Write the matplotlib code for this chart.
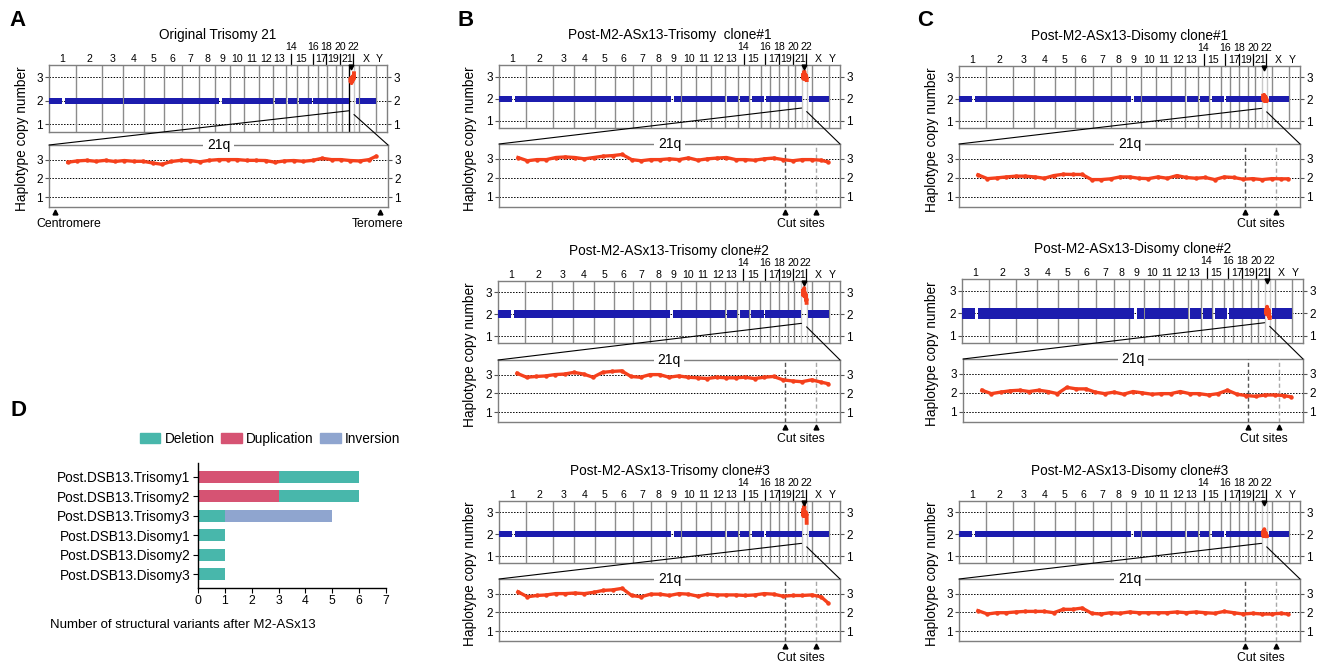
import numpy as np
import matplotlib
matplotlib.use("Agg")
import matplotlib.pyplot as plt
import matplotlib.transforms as mtrans
from matplotlib.patches import ConnectionPatch, Patch

plt.rcParams['font.family'] = ['Liberation Sans', 'DejaVu Sans']

# ---------------- data ----------------
chrom_names = [str(i) for i in range(1, 23)] + ['X', 'Y']
chrom_len_mb = [248.96, 242.19, 198.30, 190.21, 181.54, 170.81, 159.35, 145.14,
                138.39, 133.80, 135.09, 133.28, 114.36, 107.04, 101.99, 90.34,
                83.26, 80.37, 58.62, 64.44, 46.71, 50.82, 156.04, 57.23]
raised_labels = ['14', '16', '18', '20', '22']
# mappable (covered) stretches per chromosome, Mb
covered_mb = {
    '1': [(0.5, 121), (144, 248.5)], '9': [(0.5, 40), (66, 138)],
    '13': [(19, 114)], '14': [(19, 107)], '15': [(20, 102)],
    '16': [(0.5, 36), (47, 90)], '21': [], '22': [(17, 50.8)], 'Y': [],
}
# spread (half-width) of the genome-wide copy-number band per sample
band_spread = [0.12, 0.14, 0.17, 0.15, 0.15, 0.24, 0.14]

# 21q copy-number profile (Mb position -> haplotype copy number)
q21_mb = [14, 15, 16, 17, 18, 19, 20, 21, 22, 23, 24, 25, 26, 27, 28, 29, 30,
          31, 32, 33, 34, 35, 36, 37, 38, 39, 40, 41, 42, 43, 44, 45, 46, 46.7]
cn_original = [2.86, 2.93, 2.96, 2.91, 2.96, 2.90, 2.95, 2.91, 2.91, 2.82, 2.75, 2.90,
               2.96, 2.95, 2.88, 2.96, 3.00, 3.00, 3.00, 2.96, 2.96, 2.95, 2.86, 2.93,
               2.95, 2.91, 2.96, 3.07, 3.00, 3.00, 2.95, 2.93, 3.00, 3.17]
cn_tri1 = [3.07, 2.90, 2.96, 2.96, 3.07, 3.10, 3.07, 3.00, 3.07, 3.14, 3.17, 3.23,
           2.96, 2.90, 2.96, 2.96, 3.00, 2.96, 3.05, 2.93, 3.00, 3.04, 3.07, 2.96,
           2.96, 2.93, 3.00, 3.04, 2.96, 2.90, 2.96, 2.96, 2.93, 2.84]
cn_tri2 = [3.07, 2.86, 2.90, 2.93, 3.00, 3.03, 3.12, 3.03, 2.86, 3.12, 3.17, 3.20,
           2.90, 2.86, 3.00, 3.00, 2.86, 2.93, 2.86, 2.83, 2.79, 2.86, 2.83, 2.83,
           2.86, 2.79, 2.86, 2.90, 2.72, 2.66, 2.62, 2.72, 2.60, 2.52]
cn_tri3 = [3.10, 2.83, 2.90, 2.93, 3.00, 3.00, 3.03, 3.00, 3.07, 3.17, 3.20, 3.28,
           2.90, 2.83, 2.97, 2.97, 2.90, 3.00, 2.97, 2.86, 2.97, 2.93, 2.93, 2.93,
           2.90, 2.93, 3.00, 2.97, 2.86, 2.90, 2.90, 2.93, 2.83, 2.52]
cn_di1 = [2.16, 1.96, 2.00, 2.05, 2.09, 2.09, 2.05, 1.98, 2.12, 2.19, 2.18, 2.18,
          1.91, 1.91, 1.95, 2.05, 2.05, 1.98, 1.96, 2.05, 1.98, 2.12, 2.02, 1.98,
          2.02, 1.91, 2.05, 2.02, 1.93, 1.96, 1.91, 1.96, 1.95, 1.95]
cn_di2 = [2.14, 1.96, 2.04, 2.11, 2.14, 2.07, 2.14, 2.07, 1.96, 2.29, 2.21, 2.21,
          2.04, 1.96, 2.04, 1.93, 2.07, 2.00, 1.93, 1.96, 1.96, 2.07, 1.96, 1.96,
          1.89, 1.96, 2.14, 1.93, 1.86, 1.82, 1.89, 1.89, 1.86, 1.79]
cn_di3 = [2.09, 1.91, 1.98, 1.98, 2.02, 2.05, 2.05, 2.05, 1.98, 2.16, 2.16, 2.23,
          1.95, 1.91, 1.98, 1.95, 2.02, 1.98, 1.98, 1.98, 1.98, 2.02, 1.98, 2.02,
          1.98, 1.95, 2.05, 1.98, 1.91, 1.95, 1.91, 1.91, 1.95, 1.91]
cut_sites_mb = [42.2, 45.5]

sample_titles = ['Original Trisomy 21',
                 'Post-M2-ASx13-Trisomy  clone#1', 'Post-M2-ASx13-Trisomy clone#2',
                 'Post-M2-ASx13-Trisomy clone#3',
                 'Post-M2-ASx13-Disomy clone#1', 'Post-M2-ASx13-Disomy clone#2',
                 'Post-M2-ASx13-Disomy clone#3']
sample_profiles = [cn_original, cn_tri1, cn_tri2, cn_tri3, cn_di1, cn_di2, cn_di3]

# Panel D
sv_samples = ['Post.DSB13.Trisomy1', 'Post.DSB13.Trisomy2', 'Post.DSB13.Trisomy3',
              'Post.DSB13.Disomy1', 'Post.DSB13.Disomy2', 'Post.DSB13.Disomy3']
sv_duplication = [3, 3, 0, 0, 0, 0]
sv_deletion = [3, 3, 1, 1, 1, 1]
sv_inversion = [0, 0, 4, 0, 0, 0]

# ---------------- style ----------------
W, H = 1327, 664
BLUE = '#1c1cae'
RED = '#f5401c'
SPINE = '#7f7f7f'
BOUND = '#8c8c8c'
C_DEL, C_DUP, C_INV = '#48b7ab', '#d65373', '#8fa5cf'
# small horizontal nudges (pixels) for crowded chromosome labels
label_nudge_px = {'15': -1.5, '17': -1, '18': -5, '19': -5.5, '20': -5, '21': -4,
                  '22': -3.5, 'X': -2}

fig = plt.figure(figsize=(W / 100, H / 100), dpi=100)


def fx(px):
    return px / W


def fy(py):
    return 1 - py / H


def box(l, t, r, b):
    return fig.add_axes([l / W, 1 - b / H, (r - l) / W, (b - t) / H])


cum = np.concatenate([[0], np.cumsum(chrom_len_mb)])
GEN_XMAX = 3130
i21 = chrom_names.index('21')


def style_axes(ax):
    for sp in ax.spines.values():
        sp.set_color(SPINE)
        sp.set_linewidth(1.0)
    ax.set_xticks([])
    ax.set_yticks([1, 2, 3])
    ax.tick_params(axis='y', left=True, right=True, labelleft=True, labelright=True,
                   length=3, width=0.8, labelsize=8.5, pad=1.5, color='#555555')
    for y in (1, 2, 3):
        ax.axhline(y, color='k', lw=0.7, ls=(0, (1.5, 1.5)), zorder=1)


def genome_panel(ax, hpx, vals, spread, black21):
    ax.set_xlim(0, GEN_XMAX)
    ax.set_ylim(0.68, 3.52)
    style_axes(ax)
    for i in range(1, len(chrom_names)):
        col = BOUND
        if i in (i21, i21 + 1):
            col = '#c9c9c9'
        if black21 and i == i21:
            col = 'k'
        ax.axvline(cum[i], color=col, lw=1.0, zorder=2)
    for i, name in enumerate(chrom_names):
        segs = covered_mb.get(name, [(0.5, chrom_len_mb[i])])
        for s, e in segs:
            ax.fill_between([cum[i] + s, cum[i] + e], 2 - spread, 2 + spread,
                            color=BLUE, lw=0, zorder=3)
    ax.plot(cum[i21] + np.array(q21_mb), vals, color=RED, lw=2.8, zorder=4)
    tr = ax.get_xaxis_transform()
    ax.plot([cum[i21] + 23], [0.97], marker='v', ms=3.5, color='k', transform=tr,
            clip_on=False, zorder=6)
    for i, name in enumerate(chrom_names):
        c = (cum[i] + cum[i + 1]) / 2
        trn = mtrans.offset_copy(tr, fig=fig, x=label_nudge_px.get(name, 0),
                                 units='dots')
        if name in raised_labels:
            ax.text(c, 1 + 17.5 / hpx, name, transform=trn, ha='center', va='center',
                    fontsize=7.6)
            ax.plot([c, c], [1, 1 + 11.5 / hpx], color='k', lw=0.9, transform=trn,
                    clip_on=False)
        else:
            ax.text(c, 1 + 6 / hpx, name, transform=trn, ha='center', va='center',
                    fontsize=7.6)


def detail_panel(ax, vals, cuts):
    ax.set_xlim(12, 48)
    ax.set_ylim(0.47, 3.78)
    style_axes(ax)
    ax.plot(q21_mb, vals, color=RED, lw=2.4, marker='o', ms=2.2, zorder=4)
    ax.text(0.5, 1.0, '21q', transform=ax.transAxes, ha='center', va='center',
            fontsize=10, bbox=dict(facecolor='white', edgecolor='none', pad=2.5))
    tr = ax.get_xaxis_transform()
    if cuts:
        ax.axvline(cut_sites_mb[0], color='#555555', lw=1.0, ls=(0, (3, 2)), zorder=3)
        ax.axvline(cut_sites_mb[1], color='#a8a8a8', lw=1.0, ls=(0, (3, 2)), zorder=3)
        ax.plot(cut_sites_mb, [-0.08, -0.08], ls='none', marker='^', ms=3.5, color='k',
                transform=tr, clip_on=False)
        ax.text(np.mean(cut_sites_mb), -0.27, 'Cut sites', transform=tr, ha='center',
                va='center', fontsize=8.8)
    else:
        ax.plot([0.018, 0.976], [-0.08, -0.08], ls='none', marker='^', ms=3.5,
                color='k', transform=ax.transAxes, clip_on=False)
        ax.text(0.059, -0.27, 'Centromere', transform=ax.transAxes, ha='center',
                va='center', fontsize=8.8)
        ax.text(0.968, -0.27, 'Teromere', transform=ax.transAxes, ha='center',
                va='center', fontsize=8.8)


# layout boxes (pixels): top genome panel, detail panel, ylabel x
layouts = [
    ((49, 65, 387, 132), (49, 145, 388, 207), 22),
    ((499, 65, 840, 128), (499, 144, 840, 207), 470),
    ((498, 281, 840, 343), (498, 360, 840, 422), 470),
    ((499, 501, 840, 563), (499, 579, 840, 641), 470),
    ((959, 66, 1300, 128), (959, 144, 1300, 207), 932),
    ((962, 279, 1303, 343), (963, 359, 1303, 422), 932),
    ((959, 501, 1300, 563), (959, 579, 1300, 641), 932),
]

for k, (tb, bb, ylx) in enumerate(layouts):
    axt = box(*tb)
    axb = box(*bb)
    hpx = tb[3] - tb[1]
    genome_panel(axt, hpx, sample_profiles[k], band_spread[k], black21=(k == 0))
    detail_panel(axb, sample_profiles[k], cuts=(k != 0))
    fig.text(fx((tb[0] + tb[2]) / 2), fy(tb[1] - 30), sample_titles[k], ha='center',
             va='center', fontsize=9.8)
    fig.text(fx(ylx), fy((tb[1] + bb[3]) / 2 + 3), 'Haplotype copy number',
             rotation=90, ha='center', va='center', fontsize=9.8)
    c1 = ConnectionPatch(xyA=(cum[i21], 1.58), coordsA=axt.transData,
                         xyB=(0, 1), coordsB=axb.transAxes, color='k', lw=0.8)
    c2 = ConnectionPatch(xyA=(cum[i21 + 1], 1.42), coordsA=axt.transData,
                         xyB=(1, 1), coordsB=axb.transAxes, color='k', lw=0.8)
    fig.add_artist(c1)
    fig.add_artist(c2)

# ---------------- panel D ----------------
axD = box(198, 463, 386, 588)
yy = np.arange(len(sv_samples))
left = np.zeros(len(sv_samples))
for vals, col, lab in [(sv_duplication, C_DUP, 'Duplication'),
                       (sv_deletion, C_DEL, 'Deletion'),
                       (sv_inversion, C_INV, 'Inversion')]:
    v = np.array(vals, dtype=float)
    axD.barh(yy, v, left=left, height=0.62, color=col, label=lab, lw=0)
    left += v
axD.set_yticks(yy, sv_samples)
axD.set_ylim(5.7, -0.7)
axD.set_xlim(0, 7)
axD.set_xticks(range(8))
axD.spines['top'].set_visible(False)
axD.spines['right'].set_visible(False)
for s in ('left', 'bottom'):
    axD.spines[s].set_linewidth(1.0)
axD.tick_params(axis='y', labelsize=9.8, length=3.5, pad=2)
axD.tick_params(axis='x', labelsize=8.8, length=3.5, pad=1.5)
handles = [Patch(color=C_DEL, label='Deletion'), Patch(color=C_DUP, label='Duplication'),
           Patch(color=C_INV, label='Inversion')]
axD.legend(handles=handles, loc='center right', bbox_to_anchor=(fx(400), fy(439)),
           bbox_transform=fig.transFigure, ncol=3, frameon=False, fontsize=9.8,
           handlelength=1.5, handleheight=0.75, columnspacing=0.5, handletextpad=0.3,
           borderaxespad=0, borderpad=0)
fig.text(fx(50), fy(625), 'Number of structural variants after M2-ASx13', ha='left',
         va='center', fontsize=9.5)

# panel letters
for lab, x, y in [('A', 18, 21), ('B', 466, 21), ('C', 925, 21), ('D', 18, 410)]:
    fig.text(fx(x), fy(y), lab, ha='center', va='center', fontsize=16,
             fontweight='bold')

fig.savefig('out.png', dpi=100)
